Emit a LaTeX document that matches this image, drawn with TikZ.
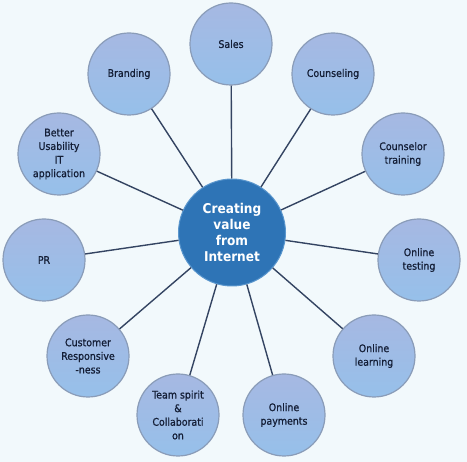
\documentclass[tikz,border=0pt]{standalone}
\usepackage{fontspec}
\setmainfont{DejaVu Sans Condensed}
\newfontface\leaffont{DejaVu Sans Condensed}[FakeBold=0.9]
\definecolor{bg}{RGB}{242,249,252}
\definecolor{ctop}{RGB}{166,184,226}
\definecolor{cbot}{RGB}{150,192,234}
\definecolor{cborder}{RGB}{138,156,184}
\definecolor{hub}{RGB}{46,116,182}
\definecolor{hubborder}{RGB}{90,150,205}
\definecolor{linkc}{RGB}{52,68,98}
\definecolor{txt}{RGB}{20,30,54}
\begin{document}
\begin{tikzpicture}[x=1pt,y=-1pt,
  leaf/.style={circle,draw=cborder,line width=1.2pt,top color=ctop,bottom color=cbot,
    minimum size=82pt,inner sep=0pt,align=center,text=txt,font=\leaffont\fontsize{10.5}{13.6}\selectfont},
  hubnode/.style={circle,draw=hubborder,line width=1pt,fill=hub,minimum size=107pt,inner sep=0pt,
    align=center,text=white,font=\fontsize{13.5}{16.3}\selectfont\bfseries},
  link/.style={draw=linkc,line width=1.4pt}]
\fill[bg] (0,0) rectangle (467,462);
\useasboundingbox (0,0) rectangle (467,462);
\node[hubnode] (c) at (232,232.5) {Creating\\value\\from\\Internet};
\node[leaf] (sales) at (231,44) {Sales};
\node[leaf] (brand) at (129,74) {Branding};
\node[leaf] (couns) at (333,74) {Counseling};
\node[leaf] (better) at (59,154) {Better\\Usability\\IT\\application};
\node[leaf] (ctrain) at (403,154) {Counselor\\training};
\node[leaf] (pr) at (44,260) {PR};
\node[leaf] (otest) at (419,260) {Online\\testing};
\node[leaf] (cust) at (88,356) {Customer\\Responsive\\-ness};
\node[leaf] (olearn) at (374,356) {Online\\learning};
\node[leaf] (team) at (178,415) {Team spirit\\\&\\Collaborati\\on};
\node[leaf] (opay) at (284,415) {Online\\payments};
\foreach \n in {sales,brand,couns,better,ctrain,pr,otest,cust,olearn,team,opay}
  \draw[link] (c) -- (\n);
\end{tikzpicture}
\end{document}
